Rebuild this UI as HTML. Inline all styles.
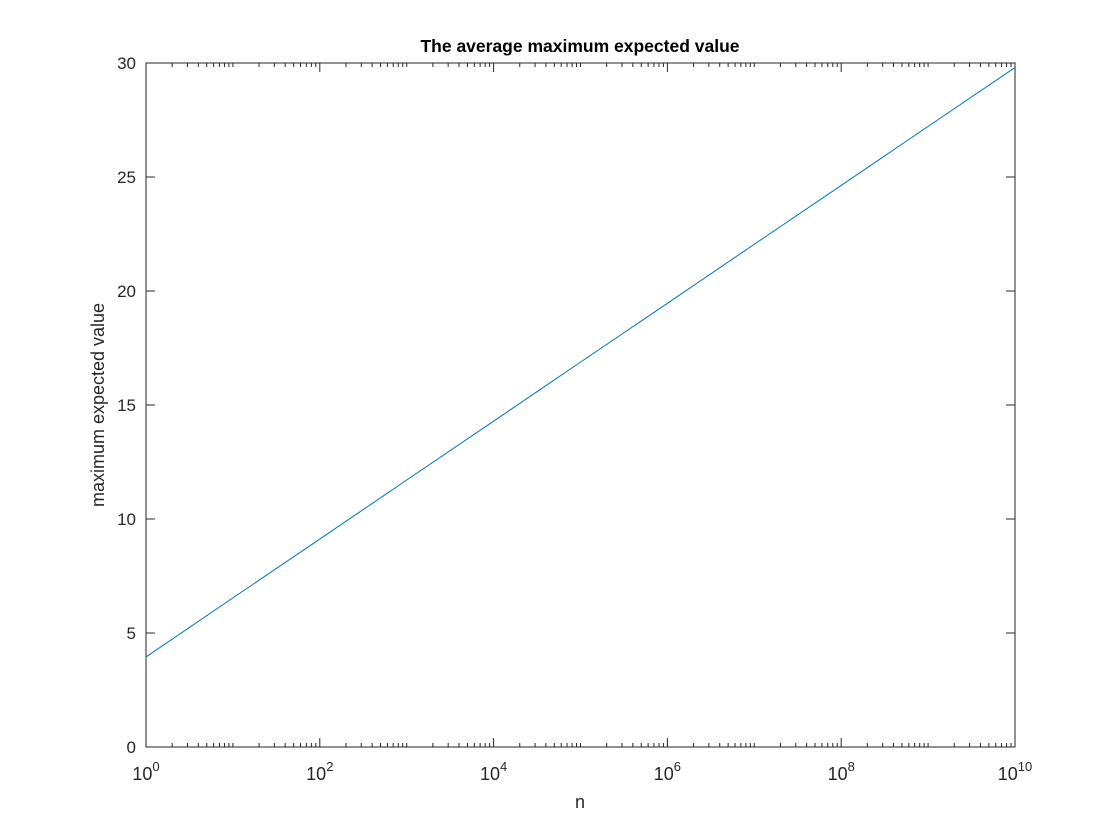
<!DOCTYPE html>
<html><head><meta charset="utf-8">
<style>
html,body{margin:0;padding:0;background:#fff;}
svg{display:block;font-family:"Liberation Sans",Helvetica,Arial,sans-serif;}
</style></head>
<body>
<svg id="chart" width="1120" height="840">
<rect x="0" y="0" width="1120" height="840" fill="#fff"/>
<rect x="146" y="63" width="869" height="684" fill="#fff" stroke="#262626" stroke-width="1"/>
<g id="ticks"></g>
<g id="series"></g>
<text x="580" y="52" text-anchor="middle" font-size="17.5" font-weight="bold" fill="#000">The average maximum expected value</text>
<text x="580" y="808" text-anchor="middle" font-size="18" fill="#262626">n</text>
<text transform="translate(104,405) rotate(-90)" text-anchor="middle" font-size="18" fill="#262626">maximum expected value</text>
</svg>
<script>
const decades = [0,1,2,3,4,5,6,7,8,9,10];
const values = [3.95,6.54,9.12,11.71,14.29,16.88,19.46,22.05,24.63,27.22,29.8];
const yTicks = [0,5,10,15,20,25,30];
const xTickLabels = [0,2,4,6,8,10];

const L=146,R=1015,T=63,B=747;
const xScale = d => L + (d-0)/(10-0)*(R-L);
const yScale = v => B - (v-0)/(30-0)*(B-T);
const NS="http://www.w3.org/2000/svg";
const tg=document.getElementById('ticks');
const sg=document.getElementById('series');
function line(g,x1,y1,x2,y2,c,w){const l=document.createElementNS(NS,'line');l.setAttribute('x1',x1);l.setAttribute('y1',y1);l.setAttribute('x2',x2);l.setAttribute('y2',y2);l.setAttribute('stroke',c);l.setAttribute('stroke-width',w);g.appendChild(l);return l;}
yTicks.forEach(v=>{
  const y=yScale(v);
  const a=line(tg,L,y,L+9,y,'#262626',1);
  
  
  const b=line(tg,R,y,R-9,y,'#262626',1);
  
  
  const t=document.createElementNS(NS,'text');
  t.setAttribute('x',L-10);t.setAttribute('y',y+6);t.setAttribute('text-anchor','end');t.setAttribute('font-size','17');t.setAttribute('fill','#262626');
  t.textContent=v;
  
  
  tg.appendChild(t);
});
for(let d=0;d<=10;d++){
  const x=xScale(d);
  const len = (d%2===0)?9:4;
  const a=line(tg,x,B,x,B-len,'#262626',1);
  
  
  const b=line(tg,x,T,x,T+len,'#262626',1);
  
  
  if(d<10){for(let m=2;m<=9;m++){
    const xm=xScale(d+Math.log10(m));
    const c=line(tg,xm,B,xm,B-4,'#262626',1);
    
    
    const e=line(tg,xm,T,xm,T+4,'#262626',1);
    
    
  }}
}
xTickLabels.forEach(d=>{
  const x=xScale(d);
  const t=document.createElementNS(NS,'text');
  t.setAttribute('x',x);t.setAttribute('y',B+33);t.setAttribute('text-anchor','middle');t.setAttribute('font-size','18');t.setAttribute('fill','#262626');
  t.innerHTML='10<tspan dy="-9" font-size="13">'+d+'</tspan>';
  
  
  tg.appendChild(t);
});
const p=document.createElementNS(NS,'polyline');
p.setAttribute('points',decades.map((d,i)=>xScale(d)+','+yScale(values[i])).join(' '));
p.setAttribute('fill','none');p.setAttribute('stroke','#0072BD');p.setAttribute('stroke-width','1');


sg.appendChild(p);
</script>
</body></html>
